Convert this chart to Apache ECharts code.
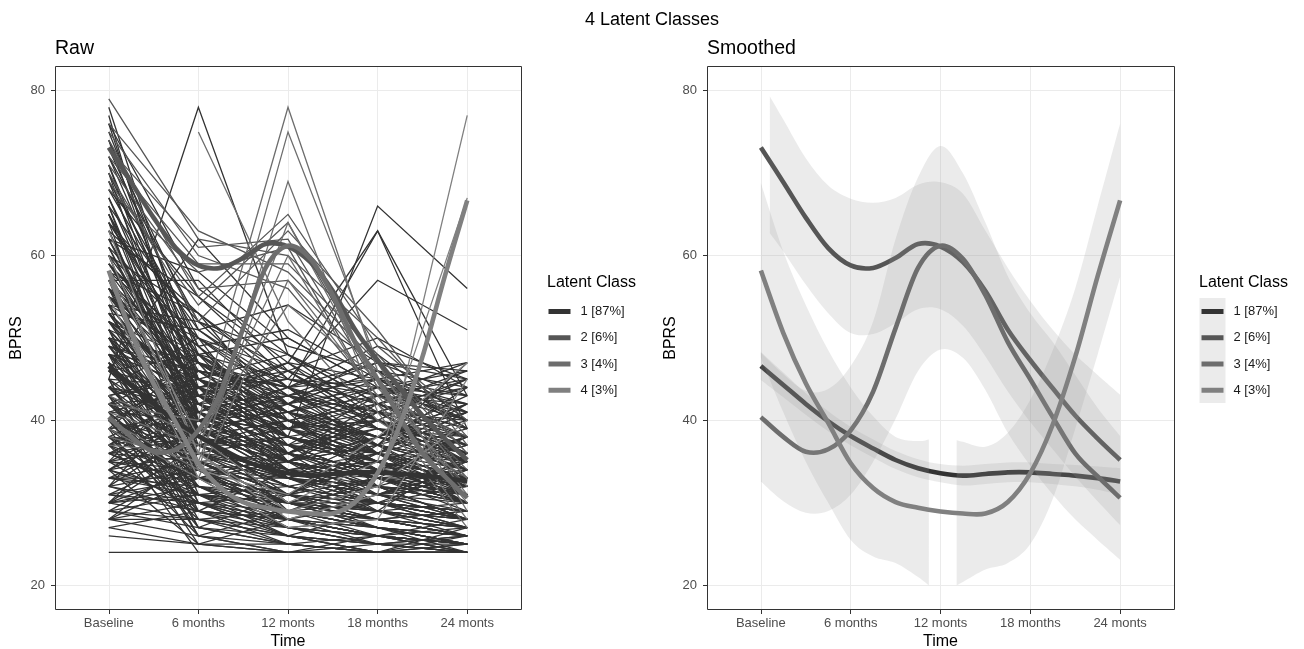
<!DOCTYPE html>
<html>
<head>
<meta charset="utf-8">
<script src="https://cdn.jsdelivr.net/npm/echarts@6/dist/echarts.min.js"></script>
<style>html,body{margin:0;padding:0;background:#fff}#c{width:1304px;height:649px}</style>
</head>
<body>
<div id="c"></div>
<script>
// ---------------- data ----------------
const timeLabels = ['Baseline', '6 months', '12 monts', '18 months', '24 monts'];
const yTicks = [20, 40, 60, 80];
const classNames = ['1 [87%]', '2 [6%]', '3 [4%]', '4 [3%]'];
const classColors = ['#333333', '#565656', '#6d6d6d', '#808080'];

// smoothed class trajectories (time position, BPRS)
const smoothT = [0, 0.25, 0.5, 0.75, 1, 1.25, 1.5, 1.75, 2, 2.25, 2.5, 2.75, 3, 3.25, 3.5, 3.75, 4];
const smooth1 = [46.6, 44.3, 42.0, 39.9, 38.1, 36.6, 35.2, 34.2, 33.6, 33.3, 33.5, 33.7, 33.7, 33.5, 33.3, 33.0, 32.6];
const smooth2 = [73.1, 68.9, 64.6, 60.9, 58.8, 58.5, 59.7, 61.4, 61.1, 59.2, 55.7, 51.0, 47.3, 43.9, 40.6, 37.8, 35.2];
const smooth3 = [40.4, 38.0, 36.2, 36.5, 38.8, 43.5, 51.2, 58.5, 61.2, 59.6, 55.2, 49.5, 45.0, 40.4, 36.0, 33.2, 30.6];
const smooth4 = [58.2, 50.6, 44.5, 39.7, 34.8, 31.8, 30.1, 29.4, 28.95, 28.7, 28.7, 30.1, 33.6, 39.5, 47.7, 57.5, 66.7];

// confidence ribbons (null = gap where the band leaves the 20-80 limits)
const ribbon1T = [0, 0.25, 0.5, 0.75, 1, 1.25, 1.5, 1.75, 2, 2.25, 2.5, 2.75, 3, 3.25, 3.5, 3.75, 4];
const ribbon1Lo = [44.9, 42.8, 40.7, 38.7, 37.0, 35.5, 34.1, 33.1, 32.5, 32.1, 32.3, 32.5, 32.5, 32.3, 32.0, 31.6, 31.0];
const ribbon1Hi = [48.3, 45.8, 43.3, 41.1, 39.2, 37.7, 36.3, 35.3, 34.7, 34.5, 34.7, 34.9, 34.9, 34.7, 34.6, 34.4, 34.2];
const ribbon2T = [0.1, 0.25, 0.5, 0.75, 1, 1.25, 1.5, 1.75, 2, 2.25, 2.5, 2.75, 3, 3.25, 3.5, 3.75, 4];
const ribbon2Lo = [62.7, 60.5, 56.5, 53.0, 50.6, 50.5, 51.8, 53.5, 53.5, 51.5, 47.8, 43.5, 39.8, 36.5, 33.2, 30.2, 27.3];
const ribbon2Hi = [79.3, 76.5, 71.8, 68.5, 66.9, 66.4, 67.0, 68.6, 68.9, 67.5, 63.0, 58.5, 54.5, 51.0, 48.0, 45.5, 43.1];
const ribbon3T = [0, 0.25, 0.5, 0.75, 1, 1.25, 1.5, 1.75, 2, 2.25, 2.5, 2.75, 3, 3.25, 3.5, 3.75, 4];
const ribbon3Lo = [32.6, 30.2, 28.8, 29.0, 31.0, 35.0, 40.2, 46.0, 48.6, 47.6, 43.7, 38.5, 34.5, 31.0, 28.0, 25.5, 23.1];
const ribbon3Hi = [48.2, 45.6, 43.6, 43.8, 46.6, 52.0, 62.0, 69.5, 73.3, 70.0, 64.0, 57.5, 53.0, 49.5, 45.5, 41.5, 38.1];
const ribbon4T = [0, 0.25, 0.5, 0.75, 1, 1.25, 1.5, 1.75, 1.87, 2.0, 2.18, 2.25, 2.5, 2.75, 3, 3.25, 3.5, 3.75, 4];
const ribbon4Lo = [47.6, 41.0, 35.0, 30.0, 25.5, 23.5, 22.7, 21.0, 20.0, null, 20.0, 20.4, 21.9, 22.7, 25.0, 30.5, 39.0, 48.0, 57.4];
const ribbon4Hi = [68.8, 60.5, 54.0, 48.5, 44.0, 40.5, 38.0, 37.5, 37.7, null, 37.6, 37.4, 36.8, 38.5, 42.5, 48.5, 56.0, 66.0, 76.0];

// raw individual trajectories [Baseline, 6m, 12m, 18m, 24m]
const rawClass1 = [
  [24,24,24,24,24],[28,28,26,25,24],[78,45,38,35,30],[77,40,35,32,28],[75,48,40,36,33],
  [74,44,33,30,27],[72,52,42,38,35],[70,38,30,28,26],[69,50,36,33,31],[67,42,34,30,29],
  [66,40,43,37,47],[65,46,44,40,37],[64,35,31,29,27],[63,41,38,34,32],[62,55,45,42,39],
  [62,43,37,33,29],[61,39,29,27,26],[60,36,33,35,30],[60,53,45,57,51],[59,48,37,31,28],
  [58,44,40,38,36],[58,38,36,42,44],[57,57,46,43,41],[57,46,41,32,28],[56,34,28,26,25],
  [55,47,35,33,34],[55,42,47,63,43],[54,40,42,36,31],[54,48,45,44,43],[53,38,30,29,28],
  [53,51,54,47,45],[52,45,39,37,35],[52,36,31,35,38],[51,33,27,25,26],[51,40,43,47,46],
  [50,42,36,34,33],[50,37,32,30,29],[50,30,28,31,33],[49,46,43,41,44],[49,35,30,28,27],
  [48,44,38,40,36],[48,39,34,33,32],[48,34,29,27,24],[47,41,37,35,30],[47,32,28,27,25],
  [47,28,26,29,30],[46,43,40,42,38],[46,36,33,31,34],[46,62,50,44,40],[46,39,41,38,42],
  [45,78,48,40,35],[45,38,35,38,36],[45,27,25,24,27],[44,33,31,29,28],[44,41,46,39,35],
  [44,50,44,63,39],[43,37,32,30,29],[43,45,38,36,33],[43,26,24,26,28],[42,35,30,33,31],
  [42,40,36,34,37],[42,37,39,43,40],[41,31,29,27,26],[41,44,41,45,42],[41,25,24,25,26],
  [40,36,34,32,30],[40,37,38,66,56],[40,32,27,28,29],[39,41,35,37,34],[39,34,32,30,28],
  [39,24,24,24,25],[38,36,38,35,33],[38,30,26,25,25],[37,39,36,34,35],[37,33,31,33,30],
  [37,42,38,36,39],[36,35,33,31,32],[36,31,30,29,27],[35,37,34,36,33],[35,29,28,26,25],
  [35,40,33,38,34],[34,36,33,32,31],[34,31,29,30,28],[33,32,30,28,29],[33,35,36,34,32],
  [33,38,35,29,36],[32,30,27,26,25],[32,34,33,31,30],[31,29,28,27,26],[31,33,35,33,31],
  [31,36,32,34,37],[30,28,27,26,24],[30,32,31,30,29],[30,34,29,32,35],[29,27,26,25,24],
  [29,31,30,28,27],[28,26,25,24,24],[68,49,39,34,30],[71,45,36,41,35],[76,56,48,42,39],
  [52,41,33,29,26],[49,38,35,31,28],[46,40,36,33,30],[44,36,31,27,25],[42,33,29,28,26],
  [40,35,30,29,27],[38,33,30,28,26],[36,32,29,27,25],[34,30,28,26,25],[32,29,27,26,24],
  [58,49,41,36,32],[56,45,38,34,31],[53,43,37,33,30],[51,39,33,30,27],[48,37,32,29,27],
  [45,35,31,28,26],[43,34,30,27,25],[41,32,28,26,24],[39,31,27,25,24],[37,30,26,24,24],
  [61,50,43,39,36],[59,47,40,35,33],[57,44,36,32,30],[54,41,34,30,28],[50,38,31,28,26],
  [47,36,29,26,25],[44,34,28,25,24],[42,31,26,24,24],[40,29,25,24,25],[38,28,25,26,27],
  [35,33,31,30,28],[33,31,32,30,29],[31,30,31,29,28],[29,28,29,28,27],[28,30,29,27,26],
  [27,29,28,26,25],[27,25,24,24,24],[26,25,25,24,24],[36,38,40,37,35],[39,40,41,39,38],
  [42,43,42,44,41],[45,44,45,43,42],[48,46,44,45,43],[44,42,43,41,40],[41,40,39,40,38],
  [38,37,37,36,35],[35,34,35,33,33],[33,33,33,32,31],[30,31,30,30,29],[47,33,36,30,34],
  [50,35,31,37,32],[53,37,40,34,38],[56,39,35,41,36],[43,29,34,31,35],[40,27,31,36,33],
  [37,26,29,33,31],[34,25,28,30,32],[65,43,35,40,34],[62,40,39,36,41],[70,47,42,37,44],
  [73,49,38,35,31],[64,52,46,40,36],[59,42,39,44,40],[55,45,48,42,46],[52,47,44,49,45],
  [49,43,47,45,47],[46,48,42,46,44],[43,46,44,41,45],[40,43,45,42,39],[37,44,40,38,42],
  [34,41,37,39,36],[32,39,34,35,38],[30,37,33,31,34],[29,35,31,33,30],[28,33,30,32,28],
  [60,34,30,27,25],[57,31,28,26,25],[54,30,27,25,24],[51,29,26,24,24],[48,27,25,24,24],
  [45,26,24,24,26],[66,37,33,30,28],[63,39,34,31,29],[71,41,35,32,30],[76,43,37,33,31],
  [68,55,47,41,38],[66,51,43,45,40],[64,48,50,44,42],[62,58,49,46,41],[60,50,46,40,45],
  [58,53,44,47,43],[56,49,51,45,39],[54,52,48,43,47],[52,44,46,50,44],[50,47,41,44,46],
  [67,45,41,38,43],[63,53,40,37,34],[59,44,47,39,36],[55,50,42,48,40],[51,46,39,42,37],
  [65,38,42,46,39],[61,41,37,43,45],[57,40,44,36,42],[53,42,36,40,35],[49,45,40,38,41],
  [72,47,40,35,32],[69,43,38,36,34],[74,51,44,39,33],[64,47,35,33,30],[60,45,38,34,31],
  [56,43,39,36,32],[52,39,37,35,33],[48,41,35,37,31],[46,38,40,34,32],[44,39,33,36,30],
  [42,47,43,40,37],[40,45,42,38,41],[38,43,39,41,36],[36,41,44,37,40],[34,39,41,43,38],
  [32,44,38,36,41],[30,40,36,39,37],[28,36,35,33,38],[35,46,39,35,33],[39,48,41,37,35]
];
const rawClass2 = [
  [79,62,60,50,38],[76,63,58,47,36],[74,55,65,49,40],[73,61,62,44,33],
  [71,56,57,46,35],[70,52,63,51,37],[68,58,61,42,32],[72,59,59,48,36],
  [69,54,64,45,34],[75,60,56,43,38]
];
const rawClass3 = [
  [42,40,78,46,33],[37,36,75,47,29],[40,34,69,41,27],[39,33,57,43,30],
  [43,38,54,45,31],[null,75,52,40,33],[38,35,64,44,32],[41,37,60,42,28]
];
const rawClass4 = [
  [63,36,28,31,77],[58,38,30,35,67],[55,33,27,28,45],[57,34,31,38,47],[60,36,29,32,40]
];

// ---------------- chart ----------------
const FONT = 'Liberation Sans, Arial, Helvetica, sans-serif';
const rawByClass = [rawClass1, rawClass2, rawClass3, rawClass4];
const smoothByClass = [smooth1, smooth2, smooth3, smooth4];
const ribbons = [
  [ribbon1T, ribbon1Lo, ribbon1Hi],
  [ribbon2T, ribbon2Lo, ribbon2Hi],
  [ribbon3T, ribbon3Lo, ribbon3Hi],
  [ribbon4T, ribbon4Lo, ribbon4Hi]
];
const timePos = timeLabels.map((_, i) => i);

const grids = [
  { left: 55, top: 66, width: 466, height: 544 },
  { left: 707, top: 66, width: 467, height: 544 }
];

function xAxisFor(g) {
  return {
    type: 'value', gridIndex: g, min: -0.6, max: 4.6, splitNumber: 5,
    axisLine: { show: false, onZero: false },
    axisTick: { show: true, length: 4, customValues: timePos, lineStyle: { color: '#333333', width: 1 } },
    axisLabel: { customValues: timePos, formatter: v => timeLabels[Math.round(v)] || '',
      color: '#4d4d4d', fontSize: 13, fontFamily: FONT, margin: 7 },
    splitLine: { show: true, lineStyle: { color: '#ebebeb', width: 1 } }
  };
}
function yAxisFor(g) {
  return {
    type: 'value', gridIndex: g, min: 17, max: 83, splitNumber: 6,
    axisLine: { show: false, onZero: false },
    axisTick: { show: true, length: 4, customValues: yTicks, lineStyle: { color: '#333333', width: 1 } },
    axisLabel: { customValues: yTicks, color: '#4d4d4d', fontSize: 13, fontFamily: FONT, margin: 10 },
    splitLine: { show: true, lineStyle: { color: '#ebebeb', width: 1 } }
  };
}

// Catmull-Rom edge through pixel points, as SVG path commands (drawing only)
function crPath(pts, start) {
  let d = (start ? 'M' : 'L') + pts[0][0] + ',' + pts[0][1];
  for (let i = 0; i < pts.length - 1; i++) {
    const p0 = pts[Math.max(i - 1, 0)], p1 = pts[i], p2 = pts[i + 1], p3 = pts[Math.min(i + 2, pts.length - 1)];
    const c1 = [p1[0] + (p2[0] - p0[0]) / 6, p1[1] + (p2[1] - p0[1]) / 6];
    const c2 = [p2[0] - (p3[0] - p1[0]) / 6, p2[1] - (p3[1] - p1[1]) / 6];
    d += 'C' + c1[0] + ',' + c1[1] + ' ' + c2[0] + ',' + c2[1] + ' ' + p2[0] + ',' + p2[1];
  }
  return d;
}

function ribbonSeries(gi, rb) {
  const [t, lo, hi] = rb;
  return {
    type: 'custom', coordinateSystem: 'cartesian2d', xAxisIndex: gi, yAxisIndex: gi,
    silent: true, clip: true, data: [[t[0], lo[0]]],
    renderItem: (params, api) => {
      const segs = []; let cur = [];
      for (let i = 0; i < t.length; i++) {
        if (lo[i] == null || hi[i] == null) { if (cur.length) segs.push(cur); cur = []; }
        else cur.push(i);
      }
      if (cur.length) segs.push(cur);
      return {
        type: 'group',
        children: segs.map(seg => {
          const up = seg.map(i => api.coord([t[i], hi[i]]));
          const dn = seg.slice().reverse().map(i => api.coord([t[i], lo[i]]));
          return {
            type: 'path',
            shape: { pathData: crPath(up, true) + crPath(dn, false) + 'Z' },
            style: { fill: 'rgba(153,153,153,0.2)' }
          };
        })
      };
    }
  };
}

function curveSeries(gi, ci) {
  const vals = smoothByClass[ci];
  return {
    type: 'custom', name: classNames[ci], coordinateSystem: 'cartesian2d', xAxisIndex: gi, yAxisIndex: gi,
    silent: true, clip: true, data: [[smoothT[0], vals[0]]],
    itemStyle: { color: classColors[ci] },
    renderItem: (params, api) => {
      const pts = smoothT.map((t, i) => api.coord([t, vals[i]]));
      return {
        type: 'path',
        shape: { pathData: crPath(pts, true) },
        style: { fill: 'none', stroke: classColors[ci], lineWidth: 4.6, lineCap: 'butt', lineJoin: 'round' }
      };
    }
  };
}

const series = [];
rawByClass.forEach((rows, ci) => {
  series.push({
    type: 'lines', name: 'raw' + ci, coordinateSystem: 'cartesian2d', xAxisIndex: 0, yAxisIndex: 0,
    polyline: true, silent: true,
    lineStyle: { color: classColors[ci], width: 1.3, opacity: 1 },
    data: rows.map(r => ({ coords: r.map((v, i) => v == null ? null : [i, v]).filter(p => p) }))
  });
});
for (let ci = 0; ci < 4; ci++) series.push(curveSeries(0, ci));
for (let ci = 0; ci < 4; ci++) { series.push(ribbonSeries(1, ribbons[ci])); series.push(curveSeries(1, ci)); }

function legendFor(left) {
  return {
    show: true, orient: 'vertical', left: left, top: 305, itemWidth: 22, itemHeight: 5, itemGap: 13.25,
    icon: 'rect', selectedMode: false, data: classNames, padding: 0,
    formatter: n => '{a|' + n + '}',
    textStyle: { fontFamily: FONT, fontSize: 13, lineHeight: 13, color: '#1a1a1a',
      rich: { a: { fontFamily: FONT, fontSize: 13, lineHeight: 13, color: '#1a1a1a', padding: [0, 0, 0, 5] } } }
  };
}

function txt(x, y, text, size, align, rot) {
  return {
    type: 'text', x: x, y: y, z: 50, silent: true, rotation: rot || 0,
    style: { text: text, fontFamily: FONT, fontSize: size, fill: '#000', align: align || 'left', verticalAlign: 'middle' }
  };
}

const graphic = [
  { type: 'rect', x: 1199.5, y: 298, z: 0, silent: true, shape: { width: 26, height: 105 }, style: { fill: '#ebebeb' } },
  txt(652, 20, '4 Latent Classes', 18, 'center'),
  txt(55, 49, 'Raw', 19.5),
  txt(707, 49, 'Smoothed', 19.5),
  txt(547, 283, 'Latent Class', 16),
  txt(1199, 283, 'Latent Class', 16),
  txt(288, 642, 'Time', 16, 'center'),
  txt(940.5, 642, 'Time', 16, 'center'),
  txt(17, 338, 'BPRS', 16, 'center', Math.PI / 2),
  txt(671, 338, 'BPRS', 16, 'center', Math.PI / 2),
  { type: 'rect', x: 55.5, y: 66.5, z: 100, silent: true, shape: { width: 466, height: 543 }, style: { fill: 'none', stroke: '#333333', lineWidth: 1 } },
  { type: 'rect', x: 707.5, y: 66.5, z: 100, silent: true, shape: { width: 467, height: 543 }, style: { fill: 'none', stroke: '#333333', lineWidth: 1 } }
];

const chart = echarts.init(document.getElementById('c'), null, { renderer: 'canvas' });
chart.setOption({
  animation: false,
  backgroundColor: '#ffffff',
  textStyle: { fontFamily: FONT },
  grid: grids,
  xAxis: [xAxisFor(0), xAxisFor(1)],
  yAxis: [yAxisFor(0), yAxisFor(1)],
  legend: [legendFor(548.5), legendFor(1201.5)],
  series: series,
  graphic: graphic
});
</script>
</body>
</html>
